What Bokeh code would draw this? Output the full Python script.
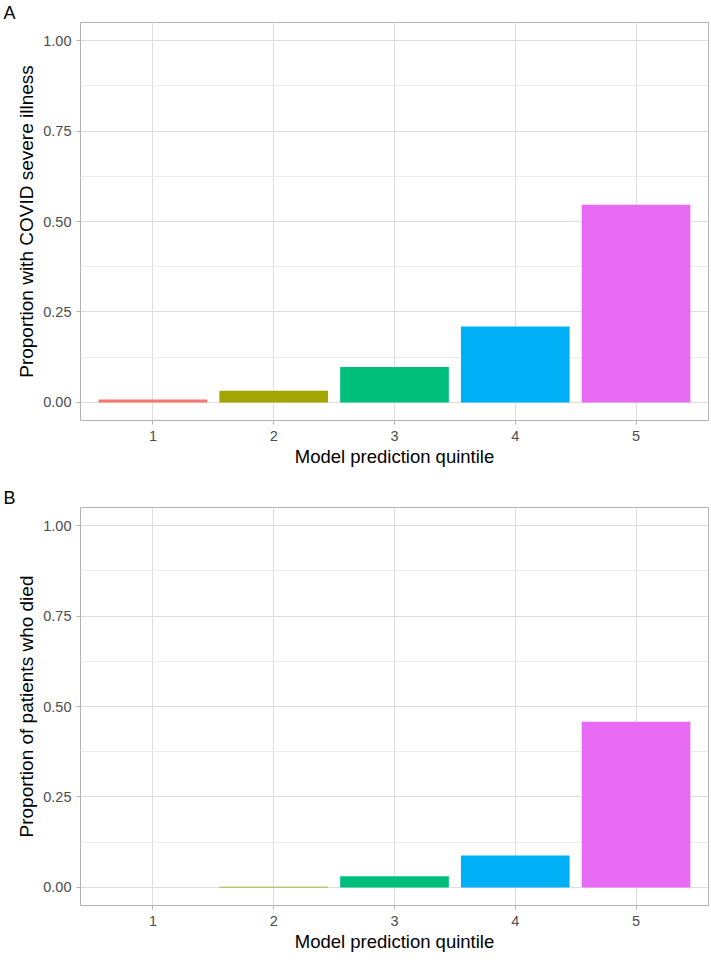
from bokeh.plotting import figure
from bokeh.models import Range1d, FixedTicker, Title
from bokeh.layouts import column
from bokeh.embed import file_html
from bokeh.resources import INLINE

quintiles = [1, 2, 3, 4, 5]
severe_prop = [0.008, 0.032, 0.098, 0.210, 0.546]
died_prop = [0.0, 0.002, 0.031, 0.088, 0.458]
colors = ["#F8766D", "#A3A500", "#00BF7D", "#00B0F6", "#E76BF3"]
y_ticks = [0.0, 0.25, 0.5, 0.75, 1.0]
y_minor = [0.125, 0.375, 0.625, 0.875]
y_tick_labels = {0.0: "0.00", 0.25: "0.25", 0.5: "0.50", 0.75: "0.75", 1.0: "1.00"}
x_label = "Model prediction quintile"

FONT = "Liberation Sans"


def make_panel(letter, values, ylabel, top_border, bottom_border):
    p = figure(frame_width=628, frame_height=398, output_backend="svg",
               toolbar_location=None, x_range=Range1d(0.4, 5.6),
               y_range=Range1d(-0.05, 1.05), min_border_left=80,
               min_border_right=2, min_border_top=top_border,
               min_border_bottom=bottom_border, background_fill_color="white",
               border_fill_color="white")
    p.vbar(x=quintiles, top=values, bottom=0, width=0.9, fill_color=colors,
           line_color=None)
    t = Title(text=letter, align="left", offset=-77, text_font=FONT,
              text_font_size="18px", text_font_style="normal",
              text_color="black", standoff=0, text_line_height=0.6)
    p.add_layout(t, "above")
    p.outline_line_color = "#B3B3B3"
    p.outline_line_width = 1
    p.xaxis.ticker = FixedTicker(ticks=quintiles)
    p.yaxis.ticker = FixedTicker(ticks=y_ticks, minor_ticks=y_minor)
    p.yaxis.major_label_overrides = y_tick_labels
    for ax in (p.xaxis, p.yaxis):
        ax.axis_line_color = None
        ax.major_tick_line_color = "#B3B3B3"
        ax.major_tick_out = 4
        ax.major_tick_in = 0
        ax.minor_tick_line_color = None
        ax.major_label_text_font = FONT
        ax.major_label_text_font_size = "14.5px"
        ax.major_label_text_color = "#4D4D4D"
        ax.axis_label_text_font = FONT
        ax.axis_label_text_font_style = "normal"
        ax.axis_label_text_color = "black"
    p.xaxis.axis_label_text_font_size = "18.5px"
    p.yaxis.axis_label_text_font_size = "19px"
    p.xaxis.major_label_standoff = 6
    p.xaxis.axis_label_standoff = 2
    p.yaxis.major_label_standoff = 5
    p.yaxis.axis_label_standoff = 3
    p.xaxis.axis_label = x_label
    p.yaxis.axis_label = ylabel
    p.xgrid.grid_line_color = "#DEDEDE"
    p.ygrid.grid_line_color = "#DEDEDE"
    p.ygrid.minor_grid_line_color = "#EBEBEB"
    p.xgrid.grid_line_width = 1
    p.ygrid.grid_line_width = 1
    return p


pA = make_panel("A", severe_prop, "Proportion with COVID severe illness", 14, 58)
pB = make_panel("B", died_prop, "Proportion of patients who died", 29, 50)

layout = column(pA, pB, spacing=0)
open("out.html", "w").write(file_html(layout, INLINE))
